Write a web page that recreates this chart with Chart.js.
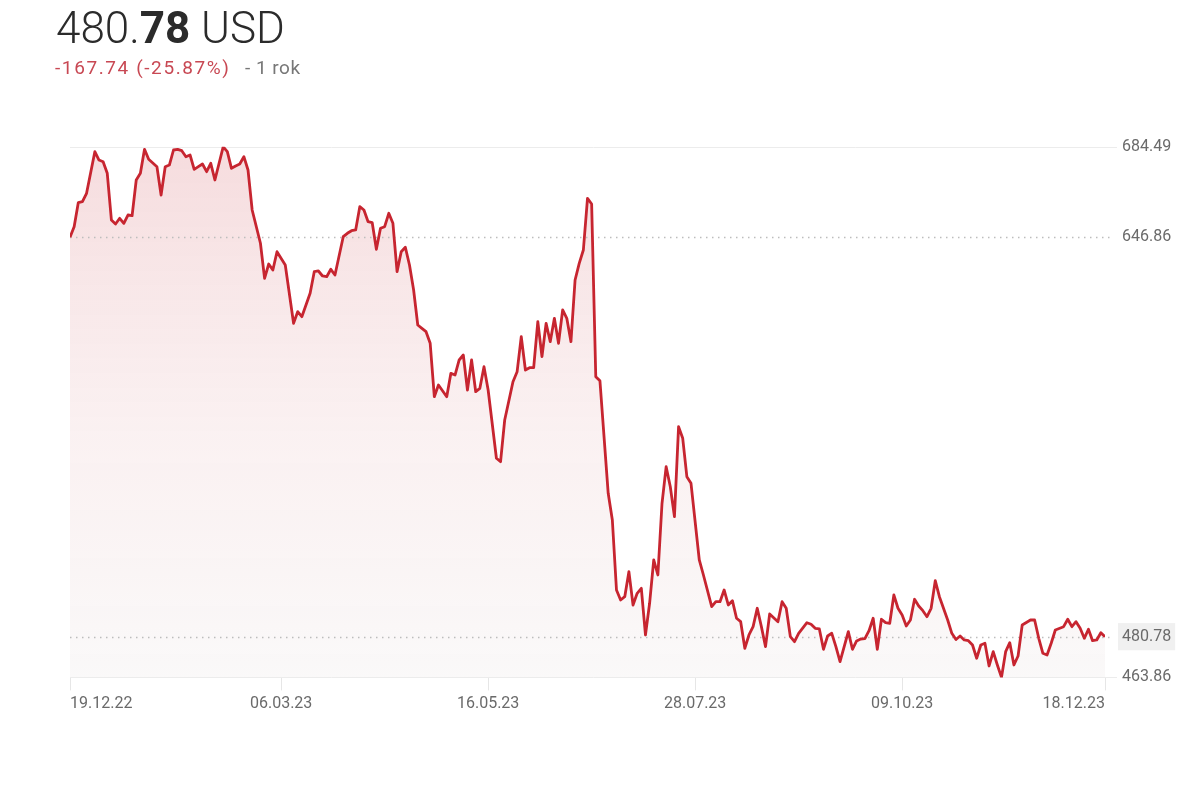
<!DOCTYPE html>
<html>
<head>
<meta charset="utf-8">
<script src="https://cdn.jsdelivr.net/npm/chart.js@4.4.1/dist/chart.umd.min.js"></script>
<style>
html,body{margin:0;padding:0;background:#fff;}
#wrap{position:relative;width:1200px;height:790px;overflow:hidden;background:#fff;}
#chart{position:absolute;left:0;top:0;}
.price{position:absolute;left:56px;top:2px;font-family:Roboto,sans-serif;font-weight:300;font-size:44px;line-height:52px;color:#2b2b2b;white-space:nowrap;}
.price b{font-weight:700;}
.sub{position:absolute;left:55px;top:56px;font-family:Roboto,sans-serif;font-size:19px;line-height:24px;white-space:nowrap;}
.chg{color:#c84853;letter-spacing:1.6px;}
.per{position:absolute;left:190px;top:0;color:#777;letter-spacing:0.5px;}
</style>
</head>
<body>
<div id="wrap">
  <canvas id="chart" width="1200" height="790"></canvas>
  <div class="price">480.<b>78</b> USD</div>
  <div class="sub"><span class="chg">-167.74 (-25.87%)</span><span class="per">- 1 rok</span></div>
</div>
<script>
// x-axis ticks (trading-day index from 19.12.22)
const tickIndex = [0, 51, 101, 151, 201, 250];
const tickLabels = ['19.12.22', '06.03.23', '16.05.23', '28.07.23', '09.10.23', '18.12.23'];

// trading-day index of each price point
const dayIndex = [
  0,1,2,3,4,6,7,8,9,10,11,12,13,14,15,16,17,18,19,21,22,23,24,25,26,27,28,29,30,31,32,33,34,35,37,38,39,40,41,42,43,44,
  46,47,48,49,50,52,54,55,56,58,59,60,61,62,63,64,66,67,68,69,70,71,72,73,74,75,76,77,78,79,80,81,82,83,84,85,86,87,88,89,
  91,92,93,94,95,96,97,98,99,100,101,103,104,105,107,108,109,110,111,112,113,114,115,116,117,118,119,120,121,122,123,124,125,126,127,128,
  130,131,132,133,134,135,136,137,138,139,140,141,142,143,144,145,146,147,148,149,150,152,153,155,156,157,158,159,160,161,162,163,164,165,166,167,168,169,
  171,172,173,174,175,176,178,179,180,181,182,183,184,185,186,188,189,190,191,192,193,194,195,196,197,198,199,200,201,202,203,204,205,206,207,208,209,210,
  212,213,214,215,216,217,218,219,220,221,222,223,224,225,226,227,228,229,230,232,233,234,235,236,237,238,240,241,242,243,244,245,246,247,248,249,250
];

// closing prices (USD)
const price = [
  646.86,651.27,661.25,661.66,665.16,682.45,679.00,678.30,673.47,654.05,652.39,654.76,652.68,656.13,655.84,670.69,673.47,683.45,679.29,676.22,664.45,676.22,676.92,683.16,683.45,682.87,680.37,681.08,675.13,676.22,677.34,674.14,677.63,670.69,684.49,682.45,675.55,676.51,677.34,680.37,674.84,658.21,
  644.37,629.81,635.76,633.26,640.87,635.34,611.10,615.93,613.85,623.58,632.56,632.85,630.77,630.48,633.55,631.18,647.11,648.52,649.60,649.90,659.58,658.21,653.35,652.93,641.87,650.60,651.27,656.84,652.68,632.56,640.87,642.70,635.34,624.95,610.39,609.02,607.61,602.79,580.58,585.45,
  580.58,590.31,589.60,595.84,597.92,583.37,595.84,582.66,584.07,593.06,583.37,554.97,553.56,570.89,586.82,590.98,605.53,591.68,592.64,592.64,611.77,597.21,611.10,603.45,613.18,602.79,616.63,613.18,603.45,629.11,636.05,641.58,663.08,660.71,588.90,587.23,
  540.42,529.31,500.21,496.05,497.42,507.82,493.97,498.84,500.92,481.50,494.68,512.68,506.44,536.26,551.48,543.16,530.69,568.11,563.28,547.32,544.57,512.68,506.44,493.26,495.34,495.34,500.21,493.97,495.76,488.44,487.03,475.97,481.50,484.95,492.60,484.95,476.63,490.23,
  487.03,495.34,492.60,480.79,478.71,482.20,486.61,485.95,484.28,483.99,475.55,481.08,482.20,476.63,470.40,482.87,475.55,479.00,479.83,479.96,483.28,488.44,475.55,488.03,486.61,486.36,498.13,492.60,489.81,485.24,487.73,496.34,493.56,491.60,489.11,492.60,504.08,497.42,
  487.73,482.20,479.60,481.08,479.42,479.13,477.34,471.81,477.34,478.05,468.61,474.55,469.02,463.86,474.55,478.30,469.02,472.77,485.65,487.73,487.73,480.12,473.89,473.18,478.05,483.58,484.95,488.03,484.95,487.03,484.28,480.12,483.87,479.13,479.42,482.45,480.78
];

const yMin = Math.min(...price);
const yMax = Math.max(...price);
const firstValue = price[0];
const lastValue = price[price.length - 1];
const yTickValues = [yMin, lastValue, firstValue, yMax];

const refLines = {
  id: 'refLines',
  beforeDatasetsDraw(chart) {
    const { ctx, chartArea: a, scales: { y } } = chart;
    ctx.save();
    ctx.lineWidth = 1;
    ctx.strokeStyle = '#ececec';
    [yMax, yMin].forEach(v => {
      const py = Math.round(y.getPixelForValue(v)) + 0.5;
      ctx.beginPath(); ctx.moveTo(a.left, py); ctx.lineTo(a.right + 12, py); ctx.stroke();
    });
    ctx.setLineDash([1.5, 4.5]);
    ctx.strokeStyle = '#bdbdbd';
    ctx.lineWidth = 1.3;
    [firstValue, lastValue].forEach(v => {
      const py = Math.round(y.getPixelForValue(v)) + 0.5;
      ctx.beginPath(); ctx.moveTo(a.left, py); ctx.lineTo(a.right + 6, py); ctx.stroke();
    });
    ctx.restore();
  }
};

const labelFont = { family: 'Roboto', size: 16 };

new Chart(document.getElementById('chart'), {
  type: 'line',
  data: {
    datasets: [{
      data: dayIndex.map((d, i) => ({ x: d, y: price[i] })),
      borderColor: '#c72530',
      borderWidth: 2.8,
      borderJoinStyle: 'round',
      pointRadius: 0,
      tension: 0,
      fill: 'start',
      backgroundColor: (c) => {
        const a = c.chart.chartArea;
        if (!a) return 'rgba(205,60,70,0.12)';
        const g = c.chart.ctx.createLinearGradient(0, a.top, 0, a.bottom);
        g.addColorStop(0, 'rgba(205,60,70,0.18)');
        g.addColorStop(0.55, 'rgba(210,120,125,0.10)');
        g.addColorStop(1, 'rgba(215,205,205,0.12)');
        return g;
      }
    }]
  },
  options: {
    responsive: false,
    animation: false,
    layout: { padding: { left: 70, top: 146.8, right: 0, bottom: 0 } },
    plugins: {
      legend: { display: false },
      tooltip: { enabled: false },
      filler: { drawTime: 'beforeDatasetsDraw' }
    },
    scales: {
      x: {
        type: 'linear',
        min: 0,
        max: 250,
        afterBuildTicks: s => { s.ticks = tickIndex.map(v => ({ value: v })); },
        afterFit: s => { s.height = 790 - 677.4; },
        grid: { display: true, drawOnChartArea: false, drawTicks: true, tickLength: 13, tickColor: '#e6e6e6', tickWidth: 1 },
        border: { display: false },
        ticks: {
          align: 'inner',
          padding: 4,
          maxRotation: 0,
          autoSkip: false,
          color: '#6a6a6a',
          font: labelFont,
          callback: v => tickLabels[tickIndex.indexOf(v)]
        }
      },
      y: {
        type: 'linear',
        position: 'right',
        min: yMin,
        max: yMax,
        afterBuildTicks: s => { s.ticks = yTickValues.map(v => ({ value: v })); },
        afterFit: s => { s.width = 95; },
        grid: { display: false, drawTicks: false },
        border: { display: false },
        ticks: {
          padding: 17,
          autoSkip: false,
          color: '#6a6a6a',
          font: labelFont,
          callback: v => Number(v).toFixed(2),
          showLabelBackdrop: c => c.tick && c.tick.value === lastValue,
          backdropColor: '#f0f0f0',
          backdropPadding: { x: 4, y: 4 }
        }
      }
    }
  },
  plugins: [refLines]
});
</script>
</body>
</html>
